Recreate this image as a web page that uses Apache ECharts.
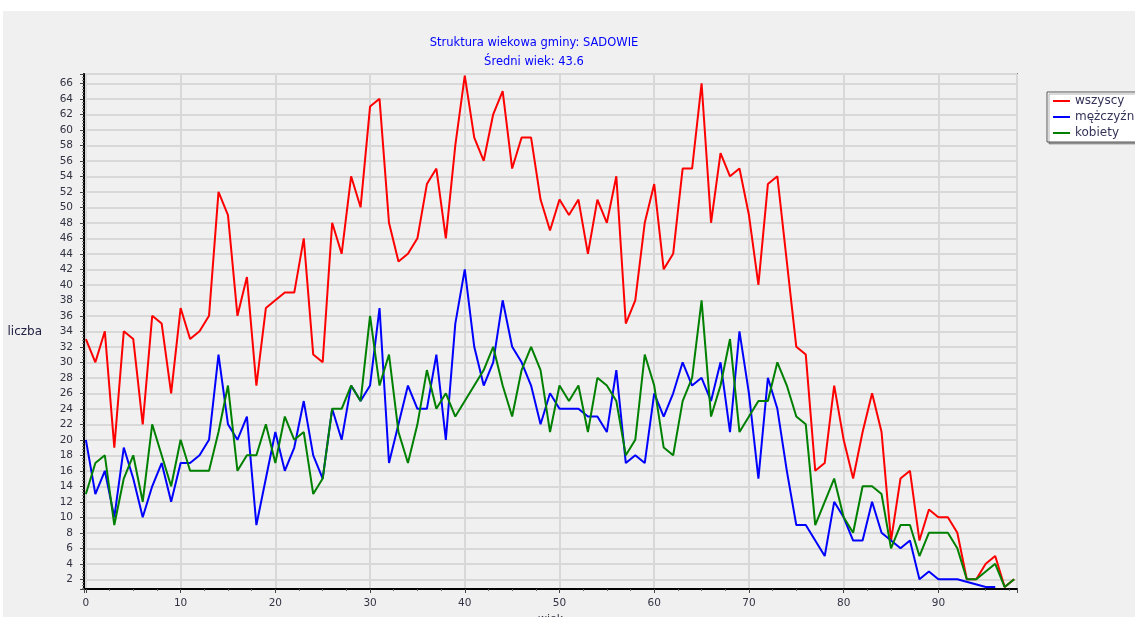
<!DOCTYPE html>
<html>
<head>
<meta charset="utf-8">
<title>Struktura wiekowa gminy: SADOWIE</title>
<script src="https://cdn.jsdelivr.net/npm/echarts@6/dist/echarts.min.js"></script>
<style>
  html, body { margin: 0; padding: 0; background: #fff; }
  #chart { position: absolute; left: 3px; top: 11px; width: 1132px; height: 606px; background: #f0f0f0; }
</style>
</head>
<body>
<div id="chart"></div>
<script>
// wiek 0..98
const ages = [];
for (let a = 0; a <= 98; a++) ages.push(a);

const wszyscy = [
  33, 30, 34, 19, 34, 33, 22, 36, 35, 26,
  37, 33, 34, 36, 52, 49, 36, 41, 27, 37,
  38, 39, 39, 46, 31, 30, 48, 44, 54, 50,
  63, 64, 48, 43, 44, 46, 53, 55, 46, 58,
  67, 59, 56, 62, 65, 55, 59, 59, 51, 47,
  51, 49, 51, 44, 51, 48, 54, 35, 38, 48,
  53, 42, 44, 55, 55, 66, 48, 57, 54, 55,
  49, 40, 53, 54, 43, 32, 31, 16, 17, 27,
  20, 15, 21, 26, 21, 7, 15, 16, 7, 11,
  10, 10, 8, 2, 2, 4, 5, 1, 2
];

// brak wartości (0) = null
const mezczyzni = [
  20, 13, 16, 10, 19, 15, 10, 14, 17, 12,
  17, 17, 18, 20, 31, 22, 20, 23, 9, 15,
  21, 16, 19, 25, 18, 15, 24, 20, 27, 25,
  27, 37, 17, 22, 27, 24, 24, 31, 20, 35,
  42, 32, 27, 30, 38, 32, 30, 27, 22, 26,
  24, 24, 24, 23, 23, 21, 29, 17, 18, 17,
  26, 23, 26, 30, 27, 28, 25, 30, 21, 34,
  26, 15, 28, 24, 16, 9, 9, 7, 5, 12,
  10, 7, 7, 12, 8, 7, 6, 7, 2, 3,
  2, 2, 2, null, null, 1, 1, null, null
];

const kobiety = [
  13, 17, 18, 9, 15, 18, 12, 22, 18, 14,
  20, 16, 16, 16, 21, 27, 16, 18, 18, 22,
  17, 23, 20, 21, 13, 15, 24, 24, 27, 25,
  36, 27, 31, 21, 17, 22, 29, 24, 26, 23,
  25, 27, 29, 32, 27, 23, 29, 32, 29, 21,
  27, 25, 27, 21, 28, 27, 25, 18, 20, 31,
  27, 19, 18, 25, 28, 38, 23, 27, 33, 21,
  23, 25, 25, 30, 27, 23, 22, 9, 12, 15,
  10, 8, 14, 14, 13, 6, 9, 9, 5, 8,
  8, 8, 6, 2, 2, 3, 4, 1, 2
];

const chart = echarts.init(document.getElementById('chart'));

const pairs = (vals) => ages.map((a, i) => [a, vals[i]]);
const hideEnds = (v) => (Number.isInteger(v) ? String(v) : '');

chart.setOption({
  backgroundColor: '#f0f0f0',
  textStyle: { fontFamily: 'DejaVu Sans' },
  title: [
    {
      text: 'Struktura wiekowa gminy: SADOWIE',
      left: 526,
      top: 21,
      textAlign: 'center',
      textStyle: { color: '#0000ff', fontSize: 11.5, fontWeight: 'normal' }
    },
    {
      text: 'Średni wiek: 43.6',
      left: 526,
      top: 40,
      textAlign: 'center',
      textStyle: { color: '#0000ff', fontSize: 11.5, fontWeight: 'normal' }
    }
  ],
  legend: {
    orient: 'vertical',
    left: 1044,
    top: 81,
    padding: [3, 40, 3, 6],
    itemGap: 4,
    itemWidth: 17,
    itemHeight: 2,
    icon: 'rect',
    backgroundColor: '#ffffff',
    borderColor: '#555555',
    borderWidth: 1,
    shadowColor: 'rgba(0,0,0,0.3)',
    shadowBlur: 0,
    shadowOffsetX: 2,
    shadowOffsetY: 2,
    textStyle: { color: '#33335a', fontSize: 12 },
    data: ['wszyscy', 'mężczyźni', 'kobiety']
  },
  grid: {
    left: 81,
    right: 118,
    top: 63,
    bottom: 28,
    outerBoundsMode: 'none',
    show: true,
    backgroundColor: '#f0f0f0',
    borderColor: '#808080',
    borderWidth: 2
  },
  xAxis: {
    type: 'value',
    min: -0.2,
    max: 98.3,
    splitNumber: 10,
    name: 'wiek',
    nameLocation: 'middle',
    nameGap: 23,
    nameTextStyle: { color: '#333344', fontSize: 11 },
    axisLine: { onZero: false, lineStyle: { color: '#000', width: 2 } },
    axisTick: { length: 4, lineStyle: { color: '#444' } },
    minorTick: { show: true, splitNumber: 4, length: 2, lineStyle: { color: '#666' } },
    axisLabel: {
      margin: 9,
      color: '#333344',
      fontSize: 10.5,
      showMinLabel: false,
      showMaxLabel: false,
      formatter: hideEnds
    },
    splitLine: { show: true, lineStyle: { color: '#d8d8d8', width: 2 } }
  },
  yAxis: {
    type: 'value',
    min: 0.75,
    max: 67.2,
    splitNumber: 33,
    name: 'liczba',
    nameLocation: 'middle',
    nameRotate: 0,
    nameGap: 42,
    nameTextStyle: { color: '#222244', fontSize: 12, padding: [12, 0, 0, 0] },
    axisLine: { onZero: false, lineStyle: { color: '#000', width: 2 } },
    axisTick: { length: 4, lineStyle: { color: '#444' } },
    minorTick: { show: true, splitNumber: 5, length: 2, lineStyle: { color: '#777' } },
    axisLabel: {
      margin: 11,
      color: '#333344',
      fontSize: 10.5,
      showMinLabel: false,
      showMaxLabel: false,
      formatter: hideEnds
    },
    splitLine: { show: true, lineStyle: { color: '#d8d8d8', width: 2 } }
  },
  series: [
    {
      name: 'wszyscy',
      type: 'line',
      data: pairs(wszyscy),
      symbol: 'none',
      color: '#ff0000',
      lineStyle: { width: 2 }
    },
    {
      name: 'mężczyźni',
      type: 'line',
      data: pairs(mezczyzni),
      symbol: 'none',
      connectNulls: true,
      color: '#0000ff',
      lineStyle: { width: 2 }
    },
    {
      name: 'kobiety',
      type: 'line',
      data: pairs(kobiety),
      symbol: 'none',
      color: '#008000',
      lineStyle: { width: 2 }
    }
  ],
  animation: false
});
</script>
</body>
</html>
